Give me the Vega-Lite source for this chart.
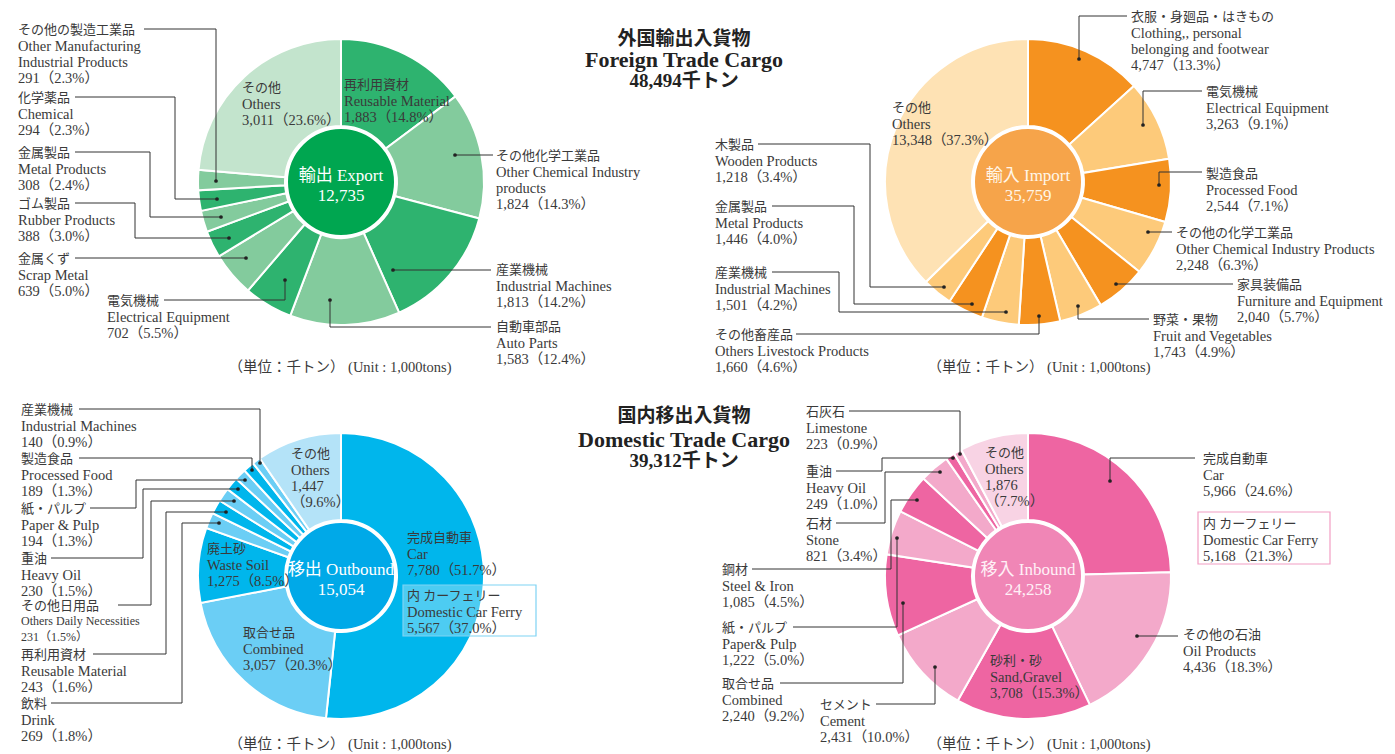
{
  "$schema": "https://vega.github.io/schema/vega-lite/v6.json",
  "padding": 0,
  "background": "white",
  "bounds": "flush",
  "columns": 2,
  "spacing": {"row": 34, "column": 0},
  "config": {
    "view": {"stroke": null},
    "font": "Liberation Serif, Noto Sans CJK JP, serif",
    "text": {"font": "Liberation Serif, Noto Sans CJK JP, serif"}
  },
  "resolve": {"scale": {"color": "independent", "theta": "independent", "x": "independent", "y": "independent", "size": "independent"}},
  "datasets": {
    "exSlices": [
      {"o": 1, "item": "再利用資材", "value": 1883, "share": 14.8},
      {"o": 2, "item": "その他化学工業品", "value": 1824, "share": 14.3},
      {"o": 3, "item": "産業機械", "value": 1813, "share": 14.2},
      {"o": 4, "item": "自動車部品", "value": 1583, "share": 12.4},
      {"o": 5, "item": "電気機械", "value": 702, "share": 5.5},
      {"o": 6, "item": "金属くず", "value": 639, "share": 5.0},
      {"o": 7, "item": "ゴム製品", "value": 388, "share": 3.0},
      {"o": 8, "item": "金属製品", "value": 308, "share": 2.4},
      {"o": 9, "item": "化学薬品", "value": 294, "share": 2.3},
      {"o": 10, "item": "その他の製造工業品", "value": 291, "share": 2.3},
      {"o": 11, "item": "その他", "value": 3011, "share": 23.6}
    ],
    "imSlices": [
      {"o": 1, "item": "衣服・身廻品・はきもの", "value": 4747, "share": 13.3},
      {"o": 2, "item": "電気機械", "value": 3263, "share": 9.1},
      {"o": 3, "item": "製造食品", "value": 2544, "share": 7.1},
      {"o": 4, "item": "その他の化学工業品", "value": 2248, "share": 6.3},
      {"o": 5, "item": "家具装備品", "value": 2040, "share": 5.7},
      {"o": 6, "item": "野菜・果物", "value": 1743, "share": 4.9},
      {"o": 7, "item": "その他畜産品", "value": 1660, "share": 4.6},
      {"o": 8, "item": "産業機械", "value": 1501, "share": 4.2},
      {"o": 9, "item": "金属製品", "value": 1446, "share": 4.0},
      {"o": 10, "item": "木製品", "value": 1218, "share": 3.4},
      {"o": 11, "item": "その他", "value": 13348, "share": 37.3}
    ],
    "obSlices": [
      {"o": 1, "item": "完成自動車", "value": 7780, "share": 51.7},
      {"o": 2, "item": "取合せ品", "value": 3057, "share": 20.3},
      {"o": 3, "item": "廃土砂", "value": 1275, "share": 8.5},
      {"o": 4, "item": "飲料", "value": 269, "share": 1.8},
      {"o": 5, "item": "再利用資材", "value": 243, "share": 1.6},
      {"o": 6, "item": "その他日用品", "value": 231, "share": 1.5},
      {"o": 7, "item": "重油", "value": 230, "share": 1.5},
      {"o": 8, "item": "紙・パルプ", "value": 194, "share": 1.3},
      {"o": 9, "item": "製造食品", "value": 189, "share": 1.3},
      {"o": 10, "item": "産業機械", "value": 140, "share": 0.9},
      {"o": 11, "item": "その他", "value": 1447, "share": 9.6}
    ],
    "ibSlices": [
      {"o": 1, "item": "完成自動車", "value": 5966, "share": 24.6},
      {"o": 2, "item": "その他の石油", "value": 4436, "share": 18.3},
      {"o": 3, "item": "砂利・砂", "value": 3708, "share": 15.3},
      {"o": 4, "item": "セメント", "value": 2431, "share": 10.0},
      {"o": 5, "item": "取合せ品", "value": 2240, "share": 9.2},
      {"o": 6, "item": "紙・パルプ", "value": 1222, "share": 5.0},
      {"o": 7, "item": "鋼材", "value": 1085, "share": 4.5},
      {"o": 8, "item": "石材", "value": 821, "share": 3.4},
      {"o": 9, "item": "重油", "value": 249, "share": 1.0},
      {"o": 10, "item": "石灰石", "value": 223, "share": 0.9},
      {"o": 11, "item": "その他", "value": 1876, "share": 7.7}
    ],
    "exCenter": [{"t": "輸出 Export\n12,735", "x": 0, "y": -14}],
    "imCenter": [{"t": "輸入 Import\n35,759", "x": 0, "y": -14}],
    "obCenter": [{"t": "移出 Outbound\n15,054", "x": 0, "y": -14}],
    "ibCenter": [{"t": "移入 Inbound\n24,258", "x": 0, "y": -14}],
    "exLabels": [
      {"ja": "その他の製造工業品", "en": "Other Manufacturing\nIndustrial Products\n291（2.3%）", "x": -323, "y": -158},
      {"ja": "化学薬品", "en": "Chemical\n294（2.3%）", "x": -323, "y": -90},
      {"ja": "金属製品", "en": "Metal Products\n308（2.4%）", "x": -323, "y": -35},
      {"ja": "ゴム製品", "en": "Rubber Products\n388（3.0%）", "x": -323, "y": 16},
      {"ja": "金属くず", "en": "Scrap Metal\n639（5.0%）", "x": -323, "y": 71},
      {"ja": "電気機械", "en": "Electrical Equipment\n702（5.5%）", "x": -234, "y": 113},
      {"ja": "自動車部品", "en": "Auto Parts\n1,583（12.4%）", "x": 155, "y": 139},
      {"ja": "産業機械", "en": "Industrial Machines\n1,813（14.2%）", "x": 155, "y": 82},
      {"ja": "その他化学工業品", "en": "Other Chemical Industry\nproducts\n1,824（14.3%）", "x": 155, "y": -32},
      {"ja": "再利用資材", "en": "Reusable Material\n1,883（14.8%）", "x": 3, "y": -103},
      {"ja": "その他", "en": "Others\n3,011（23.6%）", "x": -99, "y": -100}
    ],
    "imLabels": [
      {"ja": "衣服・身廻品・はきもの", "en": "Clothing,, personal\nbelonging and footwear\n4,747（13.3%）", "x": 103, "y": -171},
      {"ja": "電気機械", "en": "Electrical Equipment\n3,263（9.1%）", "x": 178, "y": -96},
      {"ja": "製造食品", "en": "Processed Food\n2,544（7.1%）", "x": 178, "y": -14},
      {"ja": "その他の化学工業品", "en": "Other Chemical Industry Products\n2,248（6.3%）", "x": 148, "y": 45},
      {"ja": "家具装備品", "en": "Furniture and Equipment\n2,040（5.7%）", "x": 209, "y": 97},
      {"ja": "野菜・果物", "en": "Fruit and Vegetables\n1,743（4.9%）", "x": 125, "y": 132},
      {"ja": "その他畜産品", "en": "Others Livestock Products\n1,660（4.6%）", "x": -313, "y": 147},
      {"ja": "産業機械", "en": "Industrial Machines\n1,501（4.2%）", "x": -313, "y": 85},
      {"ja": "金属製品", "en": "Metal Products\n1,446（4.0%）", "x": -313, "y": 19},
      {"ja": "木製品", "en": "Wooden Products\n1,218（3.4%）", "x": -313, "y": -43},
      {"ja": "その他", "en": "Others\n13,348（37.3%）", "x": -136, "y": -80}
    ],
    "obLabels": [
      {"ja": "産業機械", "en": "Industrial Machines\n140（0.9%）", "x": -320, "y": -172},
      {"ja": "製造食品", "en": "Processed Food\n189（1.3%）", "x": -320, "y": -123},
      {"ja": "紙・パルプ", "en": "Paper & Pulp\n194（1.3%）", "x": -320, "y": -73},
      {"ja": "重油", "en": "Heavy Oil\n230（1.5%）", "x": -320, "y": -23},
      {"ja": "その他日用品", "en": "Others Daily Necessities\n231（1.5%）", "x": -320, "y": 24},
      {"ja": "再利用資材", "en": "Reusable Material\n243（1.6%）", "x": -320, "y": 73},
      {"ja": "飲料", "en": "Drink\n269（1.8%）", "x": -320, "y": 122},
      {"ja": "その他", "en": "Others\n1,447\n（9.6%）", "x": -50, "y": -128},
      {"ja": "完成自動車", "en": "Car\n7,780（51.7%）", "x": 66, "y": -44},
      {"ja": "内 カーフェリー", "en": "Domestic Car Ferry\n5,567（37.0%）", "x": 66, "y": 14},
      {"ja": "廃土砂", "en": "Waste Soil\n1,275（8.5%）", "x": -134, "y": -33},
      {"ja": "取合せ品", "en": "Combined\n3,057（20.3%）", "x": -98, "y": 51}
    ],
    "ibLabels": [
      {"ja": "完成自動車", "en": "Car\n5,966（24.6%）", "x": 175, "y": -123},
      {"ja": "内 カーフェリー", "en": "Domestic Car Ferry\n5,168（21.3%）", "x": 175, "y": -58},
      {"ja": "その他の石油", "en": "Oil Products\n4,436（18.3%）", "x": 155, "y": 53},
      {"ja": "砂利・砂", "en": "Sand,Gravel\n3,708（15.3%）", "x": -38, "y": 79},
      {"ja": "セメント", "en": "Cement\n2,431（10.0%）", "x": -208, "y": 123},
      {"ja": "取合せ品", "en": "Combined\n2,240（9.2%）", "x": -306, "y": 102},
      {"ja": "紙・パルプ", "en": "Paper& Pulp\n1,222（5.0%）", "x": -306, "y": 46},
      {"ja": "鋼材", "en": "Steel & Iron\n1,085（4.5%）", "x": -306, "y": -12},
      {"ja": "石材", "en": "Stone\n821（3.4%）", "x": -222, "y": -58},
      {"ja": "重油", "en": "Heavy Oil\n249（1.0%）", "x": -222, "y": -110},
      {"ja": "石灰石", "en": "Limestone\n223（0.9%）", "x": -222, "y": -170},
      {"ja": "その他", "en": "Others\n1,876\n（7.7%）", "x": -43, "y": -129}
    ],
    "exPaths": [
      {"id": "e10", "k": 1, "x": -197, "y": -153}, {"id": "e10", "k": 2, "x": -125, "y": -153}, {"id": "e10", "k": 3, "x": -125, "y": -1},
      {"id": "e9", "k": 1, "x": -266, "y": -85}, {"id": "e9", "k": 2, "x": -166, "y": -85}, {"id": "e9", "k": 3, "x": -166, "y": 17}, {"id": "e9", "k": 4, "x": -124, "y": 17},
      {"id": "e8", "k": 1, "x": -266, "y": -30}, {"id": "e8", "k": 2, "x": -191, "y": -30}, {"id": "e8", "k": 3, "x": -191, "y": 35}, {"id": "e8", "k": 4, "x": -120, "y": 35},
      {"id": "e7", "k": 1, "x": -266, "y": 21}, {"id": "e7", "k": 2, "x": -206, "y": 21}, {"id": "e7", "k": 3, "x": -206, "y": 56}, {"id": "e7", "k": 4, "x": -112, "y": 56},
      {"id": "e6", "k": 1, "x": -266, "y": 76}, {"id": "e6", "k": 2, "x": -95, "y": 76},
      {"id": "e5", "k": 1, "x": -177, "y": 118}, {"id": "e5", "k": 2, "x": -56, "y": 118}, {"id": "e5", "k": 3, "x": -56, "y": 98},
      {"id": "e4", "k": 1, "x": 150, "y": 145}, {"id": "e4", "k": 2, "x": -11, "y": 145}, {"id": "e4", "k": 3, "x": -11, "y": 118},
      {"id": "e3", "k": 1, "x": 150, "y": 88}, {"id": "e3", "k": 2, "x": 52, "y": 88},
      {"id": "e2", "k": 1, "x": 152, "y": -27}, {"id": "e2", "k": 2, "x": 114, "y": -27}
    ],
    "imPaths": [
      {"id": "i1", "k": 1, "x": 99, "y": -166}, {"id": "i1", "k": 2, "x": 51, "y": -166}, {"id": "i1", "k": 3, "x": 51, "y": -123},
      {"id": "i2", "k": 1, "x": 174, "y": -91}, {"id": "i2", "k": 2, "x": 115, "y": -91}, {"id": "i2", "k": 3, "x": 115, "y": -57},
      {"id": "i3", "k": 1, "x": 174, "y": -10}, {"id": "i3", "k": 2, "x": 131, "y": -10}, {"id": "i3", "k": 3, "x": 131, "y": 3},
      {"id": "i4", "k": 1, "x": 144, "y": 50}, {"id": "i4", "k": 2, "x": 120, "y": 50},
      {"id": "i5", "k": 1, "x": 205, "y": 102}, {"id": "i5", "k": 2, "x": 88, "y": 102},
      {"id": "i6", "k": 1, "x": 121, "y": 137}, {"id": "i6", "k": 2, "x": 50, "y": 137}, {"id": "i6", "k": 3, "x": 50, "y": 124},
      {"id": "i7", "k": 1, "x": -232, "y": 152}, {"id": "i7", "k": 2, "x": 11, "y": 152}, {"id": "i7", "k": 3, "x": 11, "y": 134},
      {"id": "i8", "k": 1, "x": -256, "y": 90}, {"id": "i8", "k": 2, "x": -189, "y": 90}, {"id": "i8", "k": 3, "x": -189, "y": 130}, {"id": "i8", "k": 4, "x": -22, "y": 130},
      {"id": "i9", "k": 1, "x": -256, "y": 24}, {"id": "i9", "k": 2, "x": -174, "y": 24}, {"id": "i9", "k": 3, "x": -174, "y": 122}, {"id": "i9", "k": 4, "x": -56, "y": 122},
      {"id": "i10", "k": 1, "x": -270, "y": -38}, {"id": "i10", "k": 2, "x": -158, "y": -38}, {"id": "i10", "k": 3, "x": -158, "y": 105}, {"id": "i10", "k": 4, "x": -84, "y": 105}
    ],
    "obPaths": [
      {"id": "o10", "k": 1, "x": -262, "y": -167}, {"id": "o10", "k": 2, "x": -81, "y": -167}, {"id": "o10", "k": 3, "x": -81, "y": -113},
      {"id": "o9", "k": 1, "x": -262, "y": -118}, {"id": "o9", "k": 2, "x": -89, "y": -118}, {"id": "o9", "k": 3, "x": -89, "y": -106},
      {"id": "o8", "k": 1, "x": -251, "y": -68}, {"id": "o8", "k": 2, "x": -205, "y": -68}, {"id": "o8", "k": 3, "x": -205, "y": -96}, {"id": "o8", "k": 4, "x": -96, "y": -96},
      {"id": "o7", "k": 1, "x": -290, "y": -18}, {"id": "o7", "k": 2, "x": -198, "y": -18}, {"id": "o7", "k": 3, "x": -198, "y": -87}, {"id": "o7", "k": 4, "x": -103, "y": -87},
      {"id": "o6", "k": 1, "x": -223, "y": 29}, {"id": "o6", "k": 2, "x": -190, "y": 29}, {"id": "o6", "k": 3, "x": -190, "y": -75}, {"id": "o6", "k": 4, "x": -107, "y": -75},
      {"id": "o5", "k": 1, "x": -248, "y": 78}, {"id": "o5", "k": 2, "x": -175, "y": 78}, {"id": "o5", "k": 3, "x": -175, "y": -64}, {"id": "o5", "k": 4, "x": -115, "y": -64},
      {"id": "o4", "k": 1, "x": -290, "y": 127}, {"id": "o4", "k": 2, "x": -159, "y": 127}, {"id": "o4", "k": 3, "x": -159, "y": -53}, {"id": "o4", "k": 4, "x": -122, "y": -53}
    ],
    "ibPaths": [
      {"id": "n1", "k": 1, "x": 167, "y": -118}, {"id": "n1", "k": 2, "x": 82, "y": -118}, {"id": "n1", "k": 3, "x": 82, "y": -95},
      {"id": "n2", "k": 1, "x": 150, "y": 60}, {"id": "n2", "k": 2, "x": 109, "y": 60},
      {"id": "n4", "k": 1, "x": -152, "y": 128}, {"id": "n4", "k": 2, "x": -93, "y": 128}, {"id": "n4", "k": 3, "x": -93, "y": 91},
      {"id": "n5", "k": 1, "x": -248, "y": 107}, {"id": "n5", "k": 2, "x": -125, "y": 107}, {"id": "n5", "k": 3, "x": -125, "y": 27},
      {"id": "n6", "k": 1, "x": -235, "y": 51}, {"id": "n6", "k": 2, "x": -131, "y": 51}, {"id": "n6", "k": 3, "x": -131, "y": -38},
      {"id": "n7", "k": 1, "x": -276, "y": -7}, {"id": "n7", "k": 2, "x": -137, "y": -7}, {"id": "n7", "k": 3, "x": -137, "y": -76}, {"id": "n7", "k": 4, "x": -111, "y": -76},
      {"id": "n8", "k": 1, "x": -192, "y": -53}, {"id": "n8", "k": 2, "x": -143, "y": -53}, {"id": "n8", "k": 3, "x": -143, "y": -104}, {"id": "n8", "k": 4, "x": -88, "y": -104},
      {"id": "n9", "k": 1, "x": -192, "y": -105}, {"id": "n9", "k": 2, "x": -146, "y": -105}, {"id": "n9", "k": 3, "x": -146, "y": -118}, {"id": "n9", "k": 4, "x": -75, "y": -118},
      {"id": "n10", "k": 1, "x": -179, "y": -165}, {"id": "n10", "k": 2, "x": -68, "y": -165}, {"id": "n10", "k": 3, "x": -68, "y": -122}
    ],
    "obBox": [{"x": 62, "x2": 195, "y": 9, "y2": 60}],
    "ibBox": [{"x": 170, "x2": 302, "y": -64, "y2": -12}],
    "titles": [
      {"panel": "top", "t": "外国輸出入貨物", "lang": "ja", "x": 343, "y": -143},
      {"panel": "top", "t": "Foreign Trade Cargo", "lang": "en", "x": 343, "y": -122},
      {"panel": "top", "t": "48,494千トン", "lang": "ja", "x": 343, "y": -101},
      {"panel": "bottom", "t": "国内移出入貨物", "lang": "ja", "x": 343, "y": -160},
      {"panel": "bottom", "t": "Domestic Trade Cargo", "lang": "en", "x": 343, "y": -136},
      {"panel": "bottom", "t": "39,312千トン", "lang": "ja", "x": 343, "y": -115}
    ],
    "units": [
      {"panel": "export", "t": "（単位：千トン） (Unit : 1,000tons)", "x": -1, "y": 186},
      {"panel": "import", "t": "（単位：千トン） (Unit : 1,000tons)", "x": 11, "y": 186},
      {"panel": "outbound", "t": "（単位：千トン） (Unit : 1,000tons)", "x": -1, "y": 169},
      {"panel": "inbound", "t": "（単位：千トン） (Unit : 1,000tons)", "x": 11, "y": 169}
    ]
  },
  "concat": [
    {
      "width": 682,
      "height": 364,
      "layer": [
        {
          "data": {"name": "exSlices"},
          "mark": {"type": "arc", "innerRadius": 56, "outerRadius": 143, "stroke": "white", "strokeWidth": 2},
          "encoding": {
            "theta": {"field": "value", "type": "quantitative", "stack": true},
            "order": {"field": "o", "type": "quantitative", "sort": "ascending"},
            "color": {"field": "item", "type": "nominal", "legend": null,
              "scale": {"domain": ["再利用資材", "その他化学工業品", "産業機械", "自動車部品", "電気機械", "金属くず", "ゴム製品", "金属製品", "化学薬品", "その他の製造工業品", "その他"],
                        "range": ["#2EB36F", "#83CB9D", "#2EB36F", "#83CB9D", "#2EB36F", "#83CB9D", "#2EB36F", "#83CB9D", "#2EB36F", "#83CB9D", "#C3E4CD"]}}
          }
        },
        {
          "data": {"name": "exCenter"},
          "mark": {"type": "point", "shape": "circle", "filled": true, "size": 11664, "fill": "#00A650", "stroke": "white", "strokeWidth": 2, "opacity": 1},
          "encoding": {
            "x": {"datum": 0, "type": "quantitative", "scale": {"domain": [-341, 341], "zero": false, "nice": false}, "axis": null},
            "y": {"datum": 0, "type": "quantitative", "scale": {"domain": [-182, 182], "zero": false, "nice": false, "reverse": true}, "axis": null}
          }
        },
        {
          "data": {"name": "exCenter"},
          "mark": {"type": "text", "align": "center", "baseline": "top", "fontSize": 17, "lineHeight": 20, "lineBreak": "\n", "color": "white"},
          "encoding": {
            "x": {"field": "x", "type": "quantitative", "scale": {"domain": [-341, 341], "zero": false, "nice": false}, "axis": null},
            "y": {"field": "y", "type": "quantitative", "scale": {"domain": [-182, 182], "zero": false, "nice": false, "reverse": true}, "axis": null},
            "text": {"field": "t"}
          }
        },
        {
          "data": {"name": "exPaths"},
          "mark": {"type": "line", "color": "#333333", "strokeWidth": 1},
          "encoding": {
            "x": {"field": "x", "type": "quantitative", "scale": {"domain": [-341, 341], "zero": false, "nice": false}, "axis": null},
            "y": {"field": "y", "type": "quantitative", "scale": {"domain": [-182, 182], "zero": false, "nice": false, "reverse": true}, "axis": null},
            "detail": {"field": "id"},
            "order": {"field": "k", "type": "quantitative"}
          }
        },
        {
          "data": {"name": "exPaths"},
          "transform": [{"joinaggregate": [{"op": "max", "field": "k", "as": "kmax"}], "groupby": ["id"]}, {"filter": "datum.k === datum.kmax"}],
          "mark": {"type": "point", "shape": "circle", "filled": true, "size": 14, "color": "#222222", "opacity": 1},
          "encoding": {
            "x": {"field": "x", "type": "quantitative", "scale": {"domain": [-341, 341], "zero": false, "nice": false}, "axis": null},
            "y": {"field": "y", "type": "quantitative", "scale": {"domain": [-182, 182], "zero": false, "nice": false, "reverse": true}, "axis": null}
          }
        },
        {
          "data": {"name": "exLabels"},
          "mark": {"type": "text", "align": "left", "baseline": "top", "fontSize": 13, "color": "#3a3a3a"},
          "encoding": {
            "x": {"field": "x", "type": "quantitative", "scale": {"domain": [-341, 341], "zero": false, "nice": false}, "axis": null},
            "y": {"field": "y", "type": "quantitative", "scale": {"domain": [-182, 182], "zero": false, "nice": false, "reverse": true}, "axis": null},
            "text": {"field": "ja"}
          }
        },
        {
          "data": {"name": "exLabels"},
          "mark": {"type": "text", "align": "left", "baseline": "top", "fontSize": 14.5, "lineHeight": 16.3, "lineBreak": "\n", "dy": 15.6, "color": "#3a3a3a"},
          "encoding": {
            "x": {"field": "x", "type": "quantitative", "scale": {"domain": [-341, 341], "zero": false, "nice": false}, "axis": null},
            "y": {"field": "y", "type": "quantitative", "scale": {"domain": [-182, 182], "zero": false, "nice": false, "reverse": true}, "axis": null},
            "text": {"field": "en"}
          }
        },
        {
          "data": {"name": "titles"},
          "transform": [{"filter": "datum.panel === 'top'"}],
          "mark": {"type": "text", "align": "center", "baseline": "middle", "fontWeight": "bold", "color": "#222222"},
          "encoding": {
            "x": {"field": "x", "type": "quantitative", "scale": {"domain": [-341, 341], "zero": false, "nice": false}, "axis": null},
            "y": {"field": "y", "type": "quantitative", "scale": {"domain": [-182, 182], "zero": false, "nice": false, "reverse": true}, "axis": null},
            "text": {"field": "t"},
            "size": {"field": "lang", "type": "nominal", "scale": {"domain": ["ja", "en"], "range": [19, 22]}, "legend": null}
          }
        },
        {
          "data": {"name": "units"},
          "transform": [{"filter": "datum.panel === 'export'"}],
          "mark": {"type": "text", "align": "center", "baseline": "middle", "fontSize": 14.5, "color": "#3a3a3a"},
          "encoding": {
            "x": {"field": "x", "type": "quantitative", "scale": {"domain": [-341, 341], "zero": false, "nice": false}, "axis": null},
            "y": {"field": "y", "type": "quantitative", "scale": {"domain": [-182, 182], "zero": false, "nice": false, "reverse": true}, "axis": null},
            "text": {"field": "t"}
          }
        }
      ]
    },
    {
      "width": 692,
      "height": 364,
      "layer": [
        {
          "data": {"name": "imSlices"},
          "mark": {"type": "arc", "innerRadius": 56, "outerRadius": 143, "stroke": "white", "strokeWidth": 2},
          "encoding": {
            "theta": {"field": "value", "type": "quantitative", "stack": true},
            "order": {"field": "o", "type": "quantitative", "sort": "ascending"},
            "color": {"field": "item", "type": "nominal", "legend": null,
              "scale": {"domain": ["衣服・身廻品・はきもの", "電気機械", "製造食品", "その他の化学工業品", "家具装備品", "野菜・果物", "その他畜産品", "産業機械", "金属製品", "木製品", "その他"],
                        "range": ["#F5921F", "#FDCA7A", "#F5921F", "#FDCA7A", "#F5921F", "#FDCA7A", "#F5921F", "#FDCA7A", "#F5921F", "#FDCA7A", "#FEE2B4"]}}
          }
        },
        {
          "data": {"name": "imCenter"},
          "mark": {"type": "point", "shape": "circle", "filled": true, "size": 11664, "fill": "#F6A44A", "stroke": "white", "strokeWidth": 2, "opacity": 1},
          "encoding": {
            "x": {"datum": 0, "type": "quantitative", "scale": {"domain": [-346, 346], "zero": false, "nice": false}, "axis": null},
            "y": {"datum": 0, "type": "quantitative", "scale": {"domain": [-182, 182], "zero": false, "nice": false, "reverse": true}, "axis": null}
          }
        },
        {
          "data": {"name": "imCenter"},
          "mark": {"type": "text", "align": "center", "baseline": "top", "fontSize": 17, "lineHeight": 20, "lineBreak": "\n", "color": "#FFF6E8"},
          "encoding": {
            "x": {"field": "x", "type": "quantitative", "scale": {"domain": [-346, 346], "zero": false, "nice": false}, "axis": null},
            "y": {"field": "y", "type": "quantitative", "scale": {"domain": [-182, 182], "zero": false, "nice": false, "reverse": true}, "axis": null},
            "text": {"field": "t"}
          }
        },
        {
          "data": {"name": "imPaths"},
          "mark": {"type": "line", "color": "#333333", "strokeWidth": 1},
          "encoding": {
            "x": {"field": "x", "type": "quantitative", "scale": {"domain": [-346, 346], "zero": false, "nice": false}, "axis": null},
            "y": {"field": "y", "type": "quantitative", "scale": {"domain": [-182, 182], "zero": false, "nice": false, "reverse": true}, "axis": null},
            "detail": {"field": "id"},
            "order": {"field": "k", "type": "quantitative"}
          }
        },
        {
          "data": {"name": "imPaths"},
          "transform": [{"joinaggregate": [{"op": "max", "field": "k", "as": "kmax"}], "groupby": ["id"]}, {"filter": "datum.k === datum.kmax"}],
          "mark": {"type": "point", "shape": "circle", "filled": true, "size": 14, "color": "#222222", "opacity": 1},
          "encoding": {
            "x": {"field": "x", "type": "quantitative", "scale": {"domain": [-346, 346], "zero": false, "nice": false}, "axis": null},
            "y": {"field": "y", "type": "quantitative", "scale": {"domain": [-182, 182], "zero": false, "nice": false, "reverse": true}, "axis": null}
          }
        },
        {
          "data": {"name": "imLabels"},
          "mark": {"type": "text", "align": "left", "baseline": "top", "fontSize": 13, "color": "#3a3a3a"},
          "encoding": {
            "x": {"field": "x", "type": "quantitative", "scale": {"domain": [-346, 346], "zero": false, "nice": false}, "axis": null},
            "y": {"field": "y", "type": "quantitative", "scale": {"domain": [-182, 182], "zero": false, "nice": false, "reverse": true}, "axis": null},
            "text": {"field": "ja"}
          }
        },
        {
          "data": {"name": "imLabels"},
          "mark": {"type": "text", "align": "left", "baseline": "top", "fontSize": 14.5, "lineHeight": 16.3, "lineBreak": "\n", "dy": 15.6, "color": "#3a3a3a"},
          "encoding": {
            "x": {"field": "x", "type": "quantitative", "scale": {"domain": [-346, 346], "zero": false, "nice": false}, "axis": null},
            "y": {"field": "y", "type": "quantitative", "scale": {"domain": [-182, 182], "zero": false, "nice": false, "reverse": true}, "axis": null},
            "text": {"field": "en"}
          }
        },
        {
          "data": {"name": "units"},
          "transform": [{"filter": "datum.panel === 'import'"}],
          "mark": {"type": "text", "align": "center", "baseline": "middle", "fontSize": 14.5, "color": "#3a3a3a"},
          "encoding": {
            "x": {"field": "x", "type": "quantitative", "scale": {"domain": [-346, 346], "zero": false, "nice": false}, "axis": null},
            "y": {"field": "y", "type": "quantitative", "scale": {"domain": [-182, 182], "zero": false, "nice": false, "reverse": true}, "axis": null},
            "text": {"field": "t"}
          }
        }
      ]
    },
    {
      "width": 682,
      "height": 356,
      "layer": [
        {
          "data": {"name": "obSlices"},
          "mark": {"type": "arc", "innerRadius": 56, "outerRadius": 143, "stroke": "white", "strokeWidth": 2},
          "encoding": {
            "theta": {"field": "value", "type": "quantitative", "stack": true},
            "order": {"field": "o", "type": "quantitative", "sort": "ascending"},
            "color": {"field": "item", "type": "nominal", "legend": null,
              "scale": {"domain": ["完成自動車", "取合せ品", "廃土砂", "飲料", "再利用資材", "その他日用品", "重油", "紙・パルプ", "製造食品", "産業機械", "その他"],
                        "range": ["#00B6EC", "#6BCEF5", "#00B6EC", "#6BCEF5", "#00B6EC", "#6BCEF5", "#00B6EC", "#6BCEF5", "#00B6EC", "#6BCEF5", "#B4E3F8"]}}
          }
        },
        {
          "data": {"name": "obCenter"},
          "mark": {"type": "point", "shape": "circle", "filled": true, "size": 11664, "fill": "#00A9E8", "stroke": "white", "strokeWidth": 2, "opacity": 1},
          "encoding": {
            "x": {"datum": 0, "type": "quantitative", "scale": {"domain": [-341, 341], "zero": false, "nice": false}, "axis": null},
            "y": {"datum": 0, "type": "quantitative", "scale": {"domain": [-178, 178], "zero": false, "nice": false, "reverse": true}, "axis": null}
          }
        },
        {
          "data": {"name": "obCenter"},
          "mark": {"type": "text", "align": "center", "baseline": "top", "fontSize": 17, "lineHeight": 20, "lineBreak": "\n", "color": "white"},
          "encoding": {
            "x": {"field": "x", "type": "quantitative", "scale": {"domain": [-341, 341], "zero": false, "nice": false}, "axis": null},
            "y": {"field": "y", "type": "quantitative", "scale": {"domain": [-178, 178], "zero": false, "nice": false, "reverse": true}, "axis": null},
            "text": {"field": "t"}
          }
        },
        {
          "data": {"name": "obBox"},
          "mark": {"type": "rect", "fill": "white", "fillOpacity": 0.3, "stroke": "#7FD3F3", "strokeWidth": 1.2},
          "encoding": {
            "x": {"field": "x", "type": "quantitative", "scale": {"domain": [-341, 341], "zero": false, "nice": false}, "axis": null},
            "y": {"field": "y", "type": "quantitative", "scale": {"domain": [-178, 178], "zero": false, "nice": false, "reverse": true}, "axis": null},
            "x2": {"field": "x2"},
            "y2": {"field": "y2"}
          }
        },
        {
          "data": {"name": "obPaths"},
          "mark": {"type": "line", "color": "#333333", "strokeWidth": 1},
          "encoding": {
            "x": {"field": "x", "type": "quantitative", "scale": {"domain": [-341, 341], "zero": false, "nice": false}, "axis": null},
            "y": {"field": "y", "type": "quantitative", "scale": {"domain": [-178, 178], "zero": false, "nice": false, "reverse": true}, "axis": null},
            "detail": {"field": "id"},
            "order": {"field": "k", "type": "quantitative"}
          }
        },
        {
          "data": {"name": "obPaths"},
          "transform": [{"joinaggregate": [{"op": "max", "field": "k", "as": "kmax"}], "groupby": ["id"]}, {"filter": "datum.k === datum.kmax"}],
          "mark": {"type": "point", "shape": "circle", "filled": true, "size": 14, "color": "#222222", "opacity": 1},
          "encoding": {
            "x": {"field": "x", "type": "quantitative", "scale": {"domain": [-341, 341], "zero": false, "nice": false}, "axis": null},
            "y": {"field": "y", "type": "quantitative", "scale": {"domain": [-178, 178], "zero": false, "nice": false, "reverse": true}, "axis": null}
          }
        },
        {
          "data": {"name": "obLabels"},
          "mark": {"type": "text", "align": "left", "baseline": "top", "fontSize": 13, "color": "#3a3a3a"},
          "encoding": {
            "x": {"field": "x", "type": "quantitative", "scale": {"domain": [-341, 341], "zero": false, "nice": false}, "axis": null},
            "y": {"field": "y", "type": "quantitative", "scale": {"domain": [-178, 178], "zero": false, "nice": false, "reverse": true}, "axis": null},
            "text": {"field": "ja"}
          }
        },
        {
          "data": {"name": "obLabels"},
          "mark": {"type": "text", "align": "left", "baseline": "top", "lineHeight": 16.3, "lineBreak": "\n", "dy": 15.6, "color": "#3a3a3a"},
          "encoding": {
            "x": {"field": "x", "type": "quantitative", "scale": {"domain": [-341, 341], "zero": false, "nice": false}, "axis": null},
            "y": {"field": "y", "type": "quantitative", "scale": {"domain": [-178, 178], "zero": false, "nice": false, "reverse": true}, "axis": null},
            "text": {"field": "en"},
            "size": {"condition": {"test": "datum.ja === 'その他日用品'", "value": 12}, "value": 14.5}
          }
        },
        {
          "data": {"name": "titles"},
          "transform": [{"filter": "datum.panel === 'bottom'"}],
          "mark": {"type": "text", "align": "center", "baseline": "middle", "fontWeight": "bold", "color": "#222222"},
          "encoding": {
            "x": {"field": "x", "type": "quantitative", "scale": {"domain": [-341, 341], "zero": false, "nice": false}, "axis": null},
            "y": {"field": "y", "type": "quantitative", "scale": {"domain": [-178, 178], "zero": false, "nice": false, "reverse": true}, "axis": null},
            "text": {"field": "t"},
            "size": {"field": "lang", "type": "nominal", "scale": {"domain": ["ja", "en"], "range": [19, 22]}, "legend": null}
          }
        },
        {
          "data": {"name": "units"},
          "transform": [{"filter": "datum.panel === 'outbound'"}],
          "mark": {"type": "text", "align": "center", "baseline": "middle", "fontSize": 14.5, "color": "#3a3a3a"},
          "encoding": {
            "x": {"field": "x", "type": "quantitative", "scale": {"domain": [-341, 341], "zero": false, "nice": false}, "axis": null},
            "y": {"field": "y", "type": "quantitative", "scale": {"domain": [-178, 178], "zero": false, "nice": false, "reverse": true}, "axis": null},
            "text": {"field": "t"}
          }
        }
      ]
    },
    {
      "width": 692,
      "height": 356,
      "layer": [
        {
          "data": {"name": "ibSlices"},
          "mark": {"type": "arc", "innerRadius": 56, "outerRadius": 143, "stroke": "white", "strokeWidth": 2},
          "encoding": {
            "theta": {"field": "value", "type": "quantitative", "stack": true},
            "order": {"field": "o", "type": "quantitative", "sort": "ascending"},
            "color": {"field": "item", "type": "nominal", "legend": null,
              "scale": {"domain": ["完成自動車", "その他の石油", "砂利・砂", "セメント", "取合せ品", "紙・パルプ", "鋼材", "石材", "重油", "石灰石", "その他"],
                        "range": ["#EE65A2", "#F3A9CA", "#EE65A2", "#F3A9CA", "#EE65A2", "#F3A9CA", "#EE65A2", "#F3A9CA", "#EE65A2", "#F3A9CA", "#F8D3E4"]}}
          }
        },
        {
          "data": {"name": "ibCenter"},
          "mark": {"type": "point", "shape": "circle", "filled": true, "size": 11664, "fill": "#F086B6", "stroke": "white", "strokeWidth": 2, "opacity": 1},
          "encoding": {
            "x": {"datum": 0, "type": "quantitative", "scale": {"domain": [-346, 346], "zero": false, "nice": false}, "axis": null},
            "y": {"datum": 0, "type": "quantitative", "scale": {"domain": [-178, 178], "zero": false, "nice": false, "reverse": true}, "axis": null}
          }
        },
        {
          "data": {"name": "ibCenter"},
          "mark": {"type": "text", "align": "center", "baseline": "top", "fontSize": 17, "lineHeight": 20, "lineBreak": "\n", "color": "#FFF0F6"},
          "encoding": {
            "x": {"field": "x", "type": "quantitative", "scale": {"domain": [-346, 346], "zero": false, "nice": false}, "axis": null},
            "y": {"field": "y", "type": "quantitative", "scale": {"domain": [-178, 178], "zero": false, "nice": false, "reverse": true}, "axis": null},
            "text": {"field": "t"}
          }
        },
        {
          "data": {"name": "ibBox"},
          "mark": {"type": "rect", "fill": "white", "fillOpacity": 0, "stroke": "#F29EC4", "strokeWidth": 1.2},
          "encoding": {
            "x": {"field": "x", "type": "quantitative", "scale": {"domain": [-346, 346], "zero": false, "nice": false}, "axis": null},
            "y": {"field": "y", "type": "quantitative", "scale": {"domain": [-178, 178], "zero": false, "nice": false, "reverse": true}, "axis": null},
            "x2": {"field": "x2"},
            "y2": {"field": "y2"}
          }
        },
        {
          "data": {"name": "ibPaths"},
          "mark": {"type": "line", "color": "#333333", "strokeWidth": 1},
          "encoding": {
            "x": {"field": "x", "type": "quantitative", "scale": {"domain": [-346, 346], "zero": false, "nice": false}, "axis": null},
            "y": {"field": "y", "type": "quantitative", "scale": {"domain": [-178, 178], "zero": false, "nice": false, "reverse": true}, "axis": null},
            "detail": {"field": "id"},
            "order": {"field": "k", "type": "quantitative"}
          }
        },
        {
          "data": {"name": "ibPaths"},
          "transform": [{"joinaggregate": [{"op": "max", "field": "k", "as": "kmax"}], "groupby": ["id"]}, {"filter": "datum.k === datum.kmax"}],
          "mark": {"type": "point", "shape": "circle", "filled": true, "size": 14, "color": "#222222", "opacity": 1},
          "encoding": {
            "x": {"field": "x", "type": "quantitative", "scale": {"domain": [-346, 346], "zero": false, "nice": false}, "axis": null},
            "y": {"field": "y", "type": "quantitative", "scale": {"domain": [-178, 178], "zero": false, "nice": false, "reverse": true}, "axis": null}
          }
        },
        {
          "data": {"name": "ibLabels"},
          "mark": {"type": "text", "align": "left", "baseline": "top", "fontSize": 13, "color": "#3a3a3a"},
          "encoding": {
            "x": {"field": "x", "type": "quantitative", "scale": {"domain": [-346, 346], "zero": false, "nice": false}, "axis": null},
            "y": {"field": "y", "type": "quantitative", "scale": {"domain": [-178, 178], "zero": false, "nice": false, "reverse": true}, "axis": null},
            "text": {"field": "ja"}
          }
        },
        {
          "data": {"name": "ibLabels"},
          "mark": {"type": "text", "align": "left", "baseline": "top", "fontSize": 14.5, "lineHeight": 16.3, "lineBreak": "\n", "dy": 15.6, "color": "#3a3a3a"},
          "encoding": {
            "x": {"field": "x", "type": "quantitative", "scale": {"domain": [-346, 346], "zero": false, "nice": false}, "axis": null},
            "y": {"field": "y", "type": "quantitative", "scale": {"domain": [-178, 178], "zero": false, "nice": false, "reverse": true}, "axis": null},
            "text": {"field": "en"}
          }
        },
        {
          "data": {"name": "units"},
          "transform": [{"filter": "datum.panel === 'inbound'"}],
          "mark": {"type": "text", "align": "center", "baseline": "middle", "fontSize": 14.5, "color": "#3a3a3a"},
          "encoding": {
            "x": {"field": "x", "type": "quantitative", "scale": {"domain": [-346, 346], "zero": false, "nice": false}, "axis": null},
            "y": {"field": "y", "type": "quantitative", "scale": {"domain": [-178, 178], "zero": false, "nice": false, "reverse": true}, "axis": null},
            "text": {"field": "t"}
          }
        }
      ]
    }
  ]
}
